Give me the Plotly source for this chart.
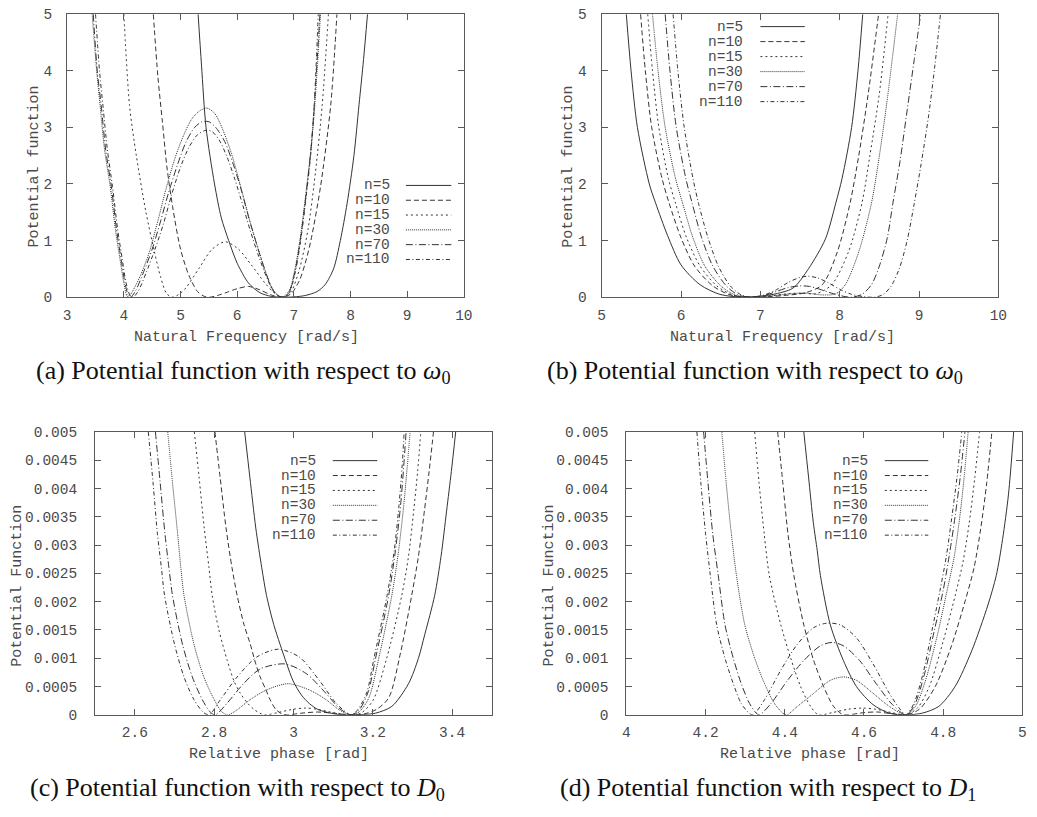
import plotly.graph_objects as go

# ------------------------------------------------------------------ data
labels = ["n=5", "n=10", "n=15", "n=30", "n=70", "n=110"]

# panel (a): potential vs natural frequency, x 3..10
a_n5_x = [5.31, 5.37, 5.45, 5.6, 5.72, 5.85, 6.0, 6.2, 6.4, 6.6, 6.8, 7.0, 7.2, 7.41, 7.55, 7.7, 7.82, 7.94, 8.06, 8.15, 8.23, 8.30]
a_n5_y = [5.0, 4.1, 3.0, 2.0, 1.4, 1.0, 0.6, 0.25, 0.08, 0.015, 0.0, 0.005, 0.03, 0.1, 0.22, 0.5, 1.0, 1.66, 2.5, 3.4, 4.2, 5.0]
a_n10_x = [4.52, 4.6, 4.68, 4.76, 4.86, 5.0, 5.15, 5.3, 5.42, 5.52, 5.65, 5.8, 6.0, 6.2, 6.4, 6.6, 6.8, 6.95, 7.1, 7.2, 7.3, 7.47, 7.65, 7.76]
a_n10_y = [5.0, 3.9, 3.1, 2.3, 1.6, 0.85, 0.38, 0.1, 0.015, 0.0, 0.03, 0.08, 0.15, 0.19, 0.13, 0.04, 0.0, 0.06, 0.3, 0.6, 1.0, 1.95, 3.39, 5.0]
a_n15_x = [4.0, 4.1, 4.22, 4.39, 4.54, 4.65, 4.75, 4.85, 4.97, 5.09, 5.32, 5.56, 5.79, 6.02, 6.25, 6.49, 6.65, 6.8, 6.95, 7.1, 7.25, 7.38, 7.5, 7.61]
a_n15_y = [5.0, 3.39, 2.5, 1.5, 0.8, 0.35, 0.07, 0.0, 0.05, 0.16, 0.5, 0.85, 0.98, 0.85, 0.57, 0.25, 0.08, 0.0, 0.1, 0.5, 1.2, 2.2, 3.39, 5.0]
a_n30_x = [3.44, 3.52, 3.58, 3.66, 3.76, 3.85, 3.93, 4.0, 4.05, 4.08, 4.15, 4.3, 4.45, 4.6, 4.74, 4.9, 5.05, 5.2, 5.35, 5.47,
           5.6, 5.75, 5.91, 6.05, 6.14, 6.25, 6.37, 6.5, 6.62, 6.72, 6.8, 6.92, 7.02, 7.12, 7.22, 7.3, 7.37, 7.47]
a_n30_y = [5.0, 4.0, 3.39, 2.6, 1.95, 1.2, 0.68, 0.25, 0.03, 0.0, 0.1, 0.4, 0.8, 1.35, 1.9, 2.45, 2.85, 3.15, 3.3, 3.34,
           3.25, 2.95, 2.5, 2.0, 1.66, 1.25, 0.85, 0.45, 0.15, 0.03, 0.0, 0.12, 0.5, 1.1, 1.9, 2.6, 3.39, 5.0]
a_n70_x = [3.46, 3.53, 3.6, 3.68, 3.78, 3.87, 3.95, 4.02, 4.08, 4.12, 4.2, 4.35, 4.5, 4.65, 4.79, 4.95, 5.1, 5.25, 5.38, 5.5,
           5.62, 5.78, 5.93, 6.07, 6.2, 6.37, 6.5, 6.62, 6.72, 6.82, 6.92, 7.02, 7.12, 7.22, 7.3, 7.36, 7.46]
a_n70_y = [5.0, 4.0, 3.39, 2.6, 1.95, 1.2, 0.68, 0.25, 0.03, 0.0, 0.1, 0.45, 0.85, 1.35, 1.85, 2.35, 2.75, 3.0, 3.1, 3.1,
           3.0, 2.75, 2.35, 1.9, 1.42, 0.85, 0.45, 0.15, 0.03, 0.0, 0.1, 0.45, 1.05, 1.85, 2.6, 3.39, 5.0]
a_n110_x = [3.5, 3.57, 3.63, 3.71, 3.8, 3.89, 3.97, 4.04, 4.11, 4.16, 4.25, 4.4, 4.55, 4.7, 4.84, 5.0, 5.15, 5.3, 5.45, 5.55,
            5.68, 5.82, 5.96, 6.1, 6.23, 6.38, 6.52, 6.64, 6.74, 6.83, 6.92, 7.02, 7.12, 7.22, 7.3, 7.36, 7.43]
a_n110_y = [5.0, 4.0, 3.39, 2.6, 1.95, 1.2, 0.68, 0.25, 0.03, 0.0, 0.1, 0.45, 0.85, 1.3, 1.8, 2.3, 2.65, 2.87, 2.95, 2.93,
            2.78, 2.48, 2.08, 1.62, 1.18, 0.72, 0.35, 0.1, 0.01, 0.0, 0.08, 0.42, 1.0, 1.8, 2.55, 3.39, 5.0]

# panel (b): potential vs natural frequency, x 5..10
b_n5_x = [5.31, 5.37, 5.45, 5.6, 5.68, 5.83, 6.0, 6.24, 6.49, 6.78, 7.0, 7.16, 7.41, 7.61, 7.82, 7.95, 8.03, 8.15, 8.23, 8.29]
b_n5_y = [5.0, 4.0, 3.0, 2.0, 1.66, 1.09, 0.57, 0.22, 0.05, 0.0, 0.02, 0.05, 0.16, 0.51, 1.03, 1.66, 2.1, 3.0, 4.0, 5.0]
b_n10_x = [5.49, 5.55, 5.63, 5.76, 5.85, 6.0, 6.17, 6.4, 6.62, 6.84, 7.1, 7.3, 7.57, 7.78, 7.97, 8.13, 8.24, 8.36, 8.49]
b_n10_y = [5.0, 4.0, 3.0, 2.1, 1.66, 1.05, 0.55, 0.2, 0.04, 0.0, 0.01, 0.03, 0.08, 0.22, 0.8, 1.66, 2.5, 3.6, 5.0]
b_n15_x = [5.58, 5.64, 5.72, 5.84, 5.93, 6.07, 6.24, 6.45, 6.65, 6.85, 7.1, 7.35, 7.55, 7.7, 7.9, 8.11, 8.28, 8.38, 8.5, 8.61]
b_n15_y = [5.0, 4.0, 3.0, 2.1, 1.66, 1.05, 0.55, 0.2, 0.04, 0.0, 0.02, 0.06, 0.07, 0.06, 0.22, 0.8, 1.66, 2.5, 3.6, 5.0]
b_n30_x = [5.64, 5.71, 5.8, 5.93, 6.02, 6.15, 6.3, 6.5, 6.68, 6.86, 7.05, 7.25, 7.45, 7.6, 7.78, 7.95, 8.07, 8.24, 8.4, 8.5, 8.6, 8.73]
b_n30_y = [5.0, 4.0, 3.0, 2.1, 1.66, 1.05, 0.55, 0.2, 0.04, 0.0, 0.01, 0.04, 0.07, 0.07, 0.04, 0.06, 0.22, 0.8, 1.66, 2.5, 3.5, 5.0]
b_n70_x = [5.8, 5.86, 5.94, 6.06, 6.14, 6.26, 6.4, 6.57, 6.72, 6.88, 7.05, 7.2, 7.35, 7.5, 7.62, 7.75, 7.9, 8.05, 8.15, 8.28,
           8.4, 8.5, 8.6, 8.67, 8.76, 8.85, 8.94, 9.02]
b_n70_y = [5.0, 4.0, 3.0, 2.1, 1.66, 1.05, 0.55, 0.2, 0.04, 0.0, 0.03, 0.1, 0.17, 0.2, 0.19, 0.14, 0.07, 0.015, 0.0, 0.05,
           0.22, 0.55, 1.05, 1.66, 2.4, 3.3, 4.2, 5.0]
b_n110_x = [5.9, 5.96, 6.04, 6.15, 6.22, 6.34, 6.47, 6.62, 6.76, 6.9, 7.05, 7.2, 7.35, 7.5, 7.6, 7.72, 7.85, 8.0, 8.15, 8.3,
            8.44, 8.55, 8.65, 8.75, 8.85, 8.94, 9.02, 9.12, 9.2, 9.27]
b_n110_y = [5.0, 4.0, 3.0, 2.1, 1.66, 1.05, 0.55, 0.2, 0.04, 0.0, 0.04, 0.13, 0.26, 0.35, 0.37, 0.34, 0.26, 0.14, 0.05, 0.01,
            0.0, 0.05, 0.2, 0.5, 1.0, 1.66, 2.3, 3.2, 4.1, 5.0]

# panel (c): potential vs relative phase (D0), x 2.5..3.5
c_n5_x = [2.877, 2.89, 2.905, 2.92, 2.932, 2.95, 2.966, 2.983, 2.999, 3.02, 3.04, 3.06, 3.082, 3.11, 3.144, 3.175, 3.207,
          3.248, 3.29, 3.315, 3.331, 3.356, 3.372, 3.386, 3.398, 3.409]
c_n5_y = [0.005, 0.0042, 0.0033, 0.0026, 0.00211, 0.0016, 0.00125, 0.0009, 0.0006, 0.00035, 0.0002, 0.0001, 0.00005, 0.00001,
          0.0, 0.000005, 0.00003, 0.00015, 0.00055, 0.001, 0.00142, 0.00211, 0.0028, 0.0036, 0.0043, 0.005]
c_n10_x = [2.802, 2.815, 2.83, 2.845, 2.858, 2.875, 2.891, 2.905, 2.916, 2.93, 2.941, 2.955, 2.97, 2.985, 3.02, 3.06, 3.1,
           3.144, 3.18, 3.21, 3.24, 3.27, 3.298, 3.315, 3.33, 3.342, 3.353]
c_n10_y = [0.005, 0.0042, 0.0033, 0.0026, 0.00211, 0.0016, 0.00125, 0.0009, 0.00067, 0.00045, 0.00027, 0.0001, 0.00002, 0.0,
           0.00003, 0.00005, 0.00003, 0.0, 0.00002, 0.0001, 0.0003, 0.0011, 0.00211, 0.0028, 0.0036, 0.0043, 0.005]
c_n15_x = [2.75, 2.762, 2.775, 2.787, 2.795, 2.812, 2.833, 2.85, 2.866, 2.885, 2.9, 2.915, 2.93, 2.96, 3.0, 3.03, 3.06, 3.1,
           3.145, 3.17, 3.2, 3.235, 3.273, 3.29, 3.303, 3.313, 3.321]
c_n15_y = [0.005, 0.0042, 0.0033, 0.0026, 0.00211, 0.0015, 0.00096, 0.0006, 0.00038, 0.0002, 0.0001, 0.00003, 0.0, 0.00004,
           0.0001, 0.00012, 0.0001, 0.00004, 0.0, 0.00003, 0.00025, 0.001, 0.00211, 0.0028, 0.0036, 0.0043, 0.005]
c_n30_x = [2.683, 2.695, 2.708, 2.716, 2.724, 2.749, 2.774, 2.8, 2.82, 2.835, 2.858, 2.891, 2.932, 2.986, 3.04, 3.082, 3.115,
           3.145, 3.165, 3.19, 3.215, 3.248, 3.265, 3.278, 3.287, 3.294]
c_n30_y = [0.005, 0.0041, 0.0032, 0.0026, 0.00211, 0.00125, 0.00067, 0.00027, 0.00005, 0.0, 0.00009, 0.00027, 0.00044, 0.00055,
           0.00044, 0.00027, 0.00009, 0.0, 0.00005, 0.0003, 0.001, 0.00211, 0.0029, 0.0037, 0.0044, 0.005]
c_n70_x = [2.652, 2.664, 2.676, 2.686, 2.695, 2.72, 2.745, 2.77, 2.79, 2.803, 2.833, 2.874, 2.916, 2.978, 3.032, 3.082, 3.115,
           3.145, 3.165, 3.188, 3.207, 3.24, 3.257, 3.27, 3.278, 3.284]
c_n70_y = [0.005, 0.0041, 0.0032, 0.0026, 0.00211, 0.00125, 0.00067, 0.00027, 0.00005, 0.0, 0.00021, 0.00055, 0.00081, 0.0009,
           0.00073, 0.00038, 0.00012, 0.0, 0.00008, 0.0004, 0.001, 0.00211, 0.0029, 0.0037, 0.0044, 0.005]
c_n110_x = [2.634, 2.646, 2.657, 2.667, 2.675, 2.7, 2.724, 2.749, 2.772, 2.787, 2.816, 2.858, 2.907, 2.961, 3.015, 3.065, 3.107,
            3.145, 3.163, 3.185, 3.203, 3.236, 3.254, 3.266, 3.274, 3.279]
c_n110_y = [0.005, 0.0041, 0.0032, 0.0026, 0.00211, 0.00125, 0.00067, 0.00027, 0.00005, 0.0, 0.00027, 0.00067, 0.00102, 0.00116,
            0.00102, 0.00061, 0.00021, 0.0, 0.0001, 0.0004, 0.001, 0.00211, 0.0029, 0.0037, 0.0044, 0.005]

# panel (d): potential vs relative phase (D1), x 4..5
d_n5_x = [4.448, 4.46, 4.472, 4.482, 4.49, 4.515, 4.548, 4.581, 4.623, 4.664, 4.706, 4.747, 4.789, 4.83, 4.872, 4.913, 4.934,
          4.95, 4.965, 4.978]
d_n5_y = [0.005, 0.0042, 0.0034, 0.0029, 0.00246, 0.00159, 0.00096, 0.0005, 0.00018, 0.00003, 0.0, 0.00003, 0.00015, 0.0005,
          0.00113, 0.00194, 0.00246, 0.0031, 0.0039, 0.005]
d_n10_x = [4.382, 4.395, 4.408, 4.423, 4.448, 4.473, 4.498, 4.523, 4.545, 4.56, 4.6, 4.635, 4.67, 4.706, 4.74, 4.78, 4.82,
           4.855, 4.878, 4.895, 4.91, 4.923]
d_n10_y = [0.005, 0.0041, 0.0032, 0.00246, 0.00159, 0.00096, 0.0005, 0.00015, 0.00001, 0.0, 0.00004, 0.00005, 0.00002, 0.0,
           0.0001, 0.0005, 0.0012, 0.002, 0.0026, 0.0033, 0.0041, 0.005]
d_n15_x = [4.324, 4.335, 4.348, 4.361, 4.39, 4.415, 4.44, 4.465, 4.485, 4.52, 4.56, 4.595, 4.63, 4.67, 4.706, 4.735, 4.765,
           4.8, 4.83, 4.85, 4.866, 4.88, 4.892]
d_n15_y = [0.005, 0.0041, 0.0032, 0.00246, 0.00159, 0.001, 0.0005, 0.00015, 0.0, 0.00004, 0.0001, 0.00012, 0.0001, 0.00004,
           0.0, 0.00012, 0.0005, 0.0013, 0.0021, 0.0027, 0.0034, 0.0042, 0.005]
d_n30_x = [4.241, 4.252, 4.265, 4.278, 4.299, 4.324, 4.349, 4.374, 4.395, 4.405, 4.432, 4.473, 4.515, 4.548, 4.581, 4.623,
           4.664, 4.706, 4.73, 4.755, 4.785, 4.81, 4.828, 4.842, 4.853, 4.863]
d_n30_y = [0.005, 0.0041, 0.0032, 0.00246, 0.00159, 0.001, 0.00055, 0.0002, 0.00003, 0.0, 0.00015, 0.00038, 0.00061, 0.00067,
           0.00061, 0.00038, 0.00015, 0.0, 0.00015, 0.0006, 0.0014, 0.0022, 0.0028, 0.0035, 0.0042, 0.005]
d_n70_x = [4.195, 4.206, 4.218, 4.232, 4.249, 4.27, 4.29, 4.311, 4.328, 4.336, 4.365, 4.407, 4.448, 4.49, 4.519, 4.548, 4.589,
           4.631, 4.672, 4.706, 4.728, 4.752, 4.778, 4.8, 4.815, 4.83, 4.843, 4.855]
d_n70_y = [0.005, 0.0041, 0.0032, 0.00246, 0.00159, 0.001, 0.00055, 0.0002, 0.00003, 0.0, 0.0002, 0.00061, 0.00096, 0.00122,
           0.00128, 0.00122, 0.00096, 0.00055, 0.00018, 0.0, 0.00018, 0.0007, 0.0015, 0.0022, 0.0028, 0.0035, 0.0042, 0.005]
d_n110_x = [4.178, 4.188, 4.2, 4.212, 4.228, 4.249, 4.27, 4.29, 4.31, 4.32, 4.349, 4.39, 4.432, 4.473, 4.506, 4.54, 4.581,
            4.623, 4.664, 4.689, 4.706, 4.726, 4.748, 4.772, 4.792, 4.808, 4.822, 4.835, 4.847]
d_n110_y = [0.005, 0.0041, 0.0032, 0.00246, 0.00159, 0.001, 0.00055, 0.0002, 0.00003, 0.0, 0.00027, 0.00079, 0.00125, 0.00154,
            0.00162, 0.00159, 0.00136, 0.0009, 0.00038, 0.00012, 0.0, 0.0002, 0.0007, 0.0015, 0.0022, 0.0028, 0.0035, 0.0042, 0.005]

# tick labels
a_xticks = [3, 4, 5, 6, 7, 8, 9, 10]
b_xticks = [5, 6, 7, 8, 9, 10]
ab_yticks = [0, 1, 2, 3, 4, 5]
c_xticks = [2.6, 2.8, 3.0, 3.2, 3.4]
c_xticktext = ["2.6", "2.8", "3", "3.2", "3.4"]
d_xticks = [4.0, 4.2, 4.4, 4.6, 4.8, 5.0]
d_xticktext = ["4", "4.2", "4.4", "4.6", "4.8", "5"]
cd_yticks = [0, 0.0005, 0.001, 0.0015, 0.002, 0.0025, 0.003, 0.0035, 0.004, 0.0045, 0.005]
cd_yticktext = ["0", "0.0005", "0.001", "0.0015", "0.002", "0.0025", "0.003", "0.0035", "0.004", "0.0045", "0.005"]

panels = {
    "a": [(a_n5_x, a_n5_y), (a_n10_x, a_n10_y), (a_n15_x, a_n15_y), (a_n30_x, a_n30_y), (a_n70_x, a_n70_y), (a_n110_x, a_n110_y)],
    "b": [(b_n5_x, b_n5_y), (b_n10_x, b_n10_y), (b_n15_x, b_n15_y), (b_n30_x, b_n30_y), (b_n70_x, b_n70_y), (b_n110_x, b_n110_y)],
    "c": [(c_n5_x, c_n5_y), (c_n10_x, c_n10_y), (c_n15_x, c_n15_y), (c_n30_x, c_n30_y), (c_n70_x, c_n70_y), (c_n110_x, c_n110_y)],
    "d": [(d_n5_x, d_n5_y), (d_n10_x, d_n10_y), (d_n15_x, d_n15_y), (d_n30_x, d_n30_y), (d_n70_x, d_n70_y), (d_n110_x, d_n110_y)],
}

# ------------------------------------------------------------------ style
W, H = 1037, 817
MONO = "Liberation Mono, Courier New, monospace"
SERIF = "Liberation Serif, Times New Roman, serif"
LINE_C = "#333333"
FRAME_C = "#5a5a5a"
TEXT_C = "#4a4a4a"
DASHES = ["solid", "5px,3px", "2px,3px", "1px,1px", "7px,2.5px,1px,2.5px", "4px,2.5px,1px,2.5px"]


def px(x):
    return x / W


def py(y):
    return 1 - y / H


# page-pixel frames of the four plot areas: (left, right, top, bottom)
FRAMES = {
    "a": (64.0, 465.7, 7.3, 296.0),
    "b": (605.3, 1007.0, 7.3, 296.0),
    "c": (92.3, 494.0, 433.3, 722.0),
    "d": (630.3, 1031.3, 433.3, 722.0),
}
AXES = {"a": ("x", "y", ""), "b": ("x2", "y2", "2"), "c": ("x3", "y3", "3"), "d": ("x4", "y4", "4")}

fig = go.Figure()
for key, series in panels.items():
    xa, ya, _ = AXES[key]
    for (xs, ys), lab, dash in zip(series, labels, DASHES):
        fig.add_trace(go.Scatter(
            x=xs, y=ys, mode="lines", name=lab, showlegend=False,
            line=dict(color=LINE_C, width=1, dash=dash, shape="spline", smoothing=0.8),
            xaxis=xa, yaxis=ya, hoverinfo="skip"))

axis_common = dict(
    showgrid=False, zeroline=False, showline=True, mirror="ticks", linecolor=FRAME_C, linewidth=1,
    ticks="inside", ticklen=6, tickwidth=1, tickcolor=FRAME_C,
    tickfont=dict(family=MONO, size=14.5, color=TEXT_C), tickmode="array",
)

layout_axes = {}
x_specs = {
    "a": ([3, 10], a_xticks, [str(v) for v in a_xticks]),
    "b": ([5, 10], b_xticks, [str(v) for v in b_xticks]),
    "c": ([2.5, 3.5], c_xticks, c_xticktext),
    "d": ([4.0, 5.0], d_xticks, d_xticktext),
}
y_specs = {
    "a": ([0, 5], ab_yticks, [str(v) for v in ab_yticks], 11),
    "b": ([0, 5], ab_yticks, [str(v) for v in ab_yticks], 11),
    "c": ([0, 0.005], cd_yticks, cd_yticktext, 14),
    "d": ([0, 0.005], cd_yticks, cd_yticktext, 14),
}
for key, (l, r, t, b) in FRAMES.items():
    xa, ya, suf = AXES[key]
    xr, xt, xtt = x_specs[key]
    yr, yt, ytt, ystand = y_specs[key]
    layout_axes["xaxis" + suf] = dict(axis_common, domain=[px(l), px(r)], range=xr, tickvals=xt, ticktext=xtt,
                                      anchor=ya, ticklabelstandoff=4)
    layout_axes["yaxis" + suf] = dict(axis_common, domain=[py(b), py(t)], range=yr, tickvals=yt, ticktext=ytt,
                                      anchor=xa, ticklabelstandoff=ystand)

annotations = []
shapes = []

# axis titles (page-pixel centres)
xtitles = [("Natural Frequency [rad/s]", 246, 337), ("Natural Frequency [rad/s]", 788, 337),
           ("Relative phase [rad]", 278, 762), ("Relative phase [rad]", 816, 762)]
for txt, x, y in xtitles:
    annotations.append(dict(text=txt, x=px(x), y=py(y), xref="paper", yref="paper", showarrow=False,
                            xanchor="center", yanchor="middle", font=dict(family=MONO, size=15, color=TEXT_C)))
ytitles = [("Potential function", 31, 163), ("Potential function", 572, 163),
           ("Potential Function", 13.5, 590), ("Potential Function", 552, 590)]
for txt, x, y in ytitles:
    annotations.append(dict(text=txt, x=px(x), y=py(y), xref="paper", yref="paper", showarrow=False, textangle=-90,
                            xanchor="center", yanchor="middle", font=dict(family=MONO, size=15, color=TEXT_C)))

# captions (left edge, centre-y)
captions = [("(a) Potential function with respect to <i>ω</i><sub>0</sub>", 30, 372),
            ("(b) Potential function with respect to <i>ω</i><sub>0</sub>", 548, 372),
            ("(c) Potential function with respect to <i>D</i><sub>0</sub>", 24, 798),
            ("(d) Potential function with respect to <i>D</i><sub>1</sub>", 561, 798)]
for txt, x, y in captions:
    annotations.append(dict(text=txt, x=px(x), y=py(y), xref="paper", yref="paper", showarrow=False,
                            xanchor="left", yanchor="middle", font=dict(family=SERIF, size=26, color="#111111")))

# gnuplot-style keys: right-aligned label followed by a line sample
keys = {"a": (393, 407, 453, 182.0, 15.1), "b": (750, 766, 811, 20.0, 15.3),
        "c": (318, 333, 378, 462.7, 15.2), "d": (877, 892, 936, 462.7, 15.2)}
for key, (tx, s0, s1, y0, dy) in keys.items():
    for i, (lab, dash) in enumerate(zip(labels, DASHES)):
        yy = y0 + i * dy
        annotations.append(dict(text=lab, x=px(tx), y=py(yy), xref="paper", yref="paper", showarrow=False,
                                xanchor="right", yanchor="middle", font=dict(family=MONO, size=14.5, color=TEXT_C)))
        shapes.append(dict(type="line", xref="paper", yref="paper", x0=px(s0), x1=px(s1), y0=py(yy), y1=py(yy),
                           line=dict(color=LINE_C, width=1, dash=dash)))

fig.update_layout(
    width=W, height=H, autosize=False,
    margin=dict(l=0, r=0, t=0, b=0, pad=0),
    paper_bgcolor="white", plot_bgcolor="white",
    showlegend=False,
    annotations=annotations, shapes=shapes,
    **layout_axes,
)

fig.write_html("out.html", config={"displayModeBar": False},
               post_script="document.body.style.margin='0px';")
